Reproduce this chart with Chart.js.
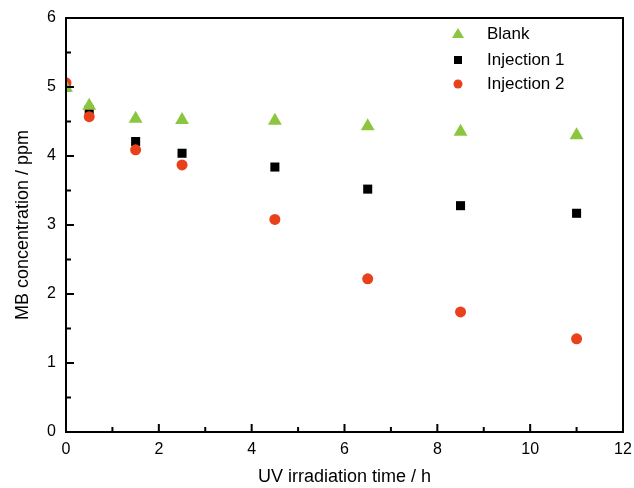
<!DOCTYPE html>
<html>
<head>
<meta charset="utf-8">
<script src="https://cdn.jsdelivr.net/npm/chart.js@4.4.0/dist/chart.umd.min.js"></script>
<style>
  html, body { margin: 0; padding: 0; background: #fff; }
  #wrap { width: 634px; height: 488px; }
</style>
</head>
<body>
<div id="wrap"><canvas id="mbChart" width="634" height="488"></canvas></div>
<script>
// irradiation times (h)
const times = [0, 0.5, 1.5, 2.5, 4.5, 6.5, 8.5, 11];
// MB concentration (ppm)
const blank = [4.99, 4.73, 4.54, 4.52, 4.51, 4.43, 4.35, 4.30];
const injection1 = [5.0, 4.67, 4.21, 4.04, 3.84, 3.52, 3.28, 3.17];
const injection2 = [5.06, 4.57, 4.09, 3.87, 3.08, 2.22, 1.74, 1.35];
const seriesNames = ['Blank', 'Injection 1', 'Injection 2'];

const xTicks = [0, 2, 4, 6, 8, 10, 12];
const yTicks = [0, 1, 2, 3, 4, 5, 6];

const GREEN = '#8cc63e';
const RED = '#e8411b';
const FONT = '"Liberation Sans", Arial, sans-serif';

function toPoints(ys) {
  return times.map((t, i) => ({ x: t, y: ys[i] }));
}

// box frame + inward ticks (major and minor)
const framePlugin = {
  id: 'frame',
  afterDatasetsDraw(chart) {
    const { ctx, chartArea: a, scales } = chart;
    const xs = scales.x, ys = scales.y;
    ctx.save();
    ctx.strokeStyle = '#000';
    ctx.lineWidth = 2;
    ctx.strokeRect(a.left, a.top, a.right - a.left, a.bottom - a.top);
    ctx.beginPath();
    for (let v = 0; v <= 12; v += 1) {
      const px = xs.getPixelForValue(v);
      const len = v % 2 === 0 ? 8 : 5;
      ctx.moveTo(px, a.bottom);
      ctx.lineTo(px, a.bottom - len);
    }
    for (let v = 0; v <= 6; v += 0.5) {
      const py = ys.getPixelForValue(v);
      const len = Number.isInteger(v) ? 8 : 5;
      ctx.moveTo(a.left, py);
      ctx.lineTo(a.left + len, py);
    }
    ctx.stroke();
    ctx.restore();
  }
};

// legend drawn inside the plot, top right
const legendPlugin = {
  id: 'innerLegend',
  afterDraw(chart) {
    const { ctx, chartArea: a } = chart;
    const x0 = a.right - 165;
    const rows = [a.top + 16, a.top + 42, a.top + 66];
    ctx.save();
    ctx.font = '17px ' + FONT;
    ctx.textBaseline = 'middle';
    chart.data.datasets.forEach((ds, i) => {
      const y = rows[i];
      ctx.fillStyle = ds.backgroundColor;
      ctx.beginPath();
      if (ds.pointStyle === 'triangle') {
        ctx.moveTo(x0, y - 6);
        ctx.lineTo(x0 + 6, y + 4);
        ctx.lineTo(x0 - 6, y + 4);
        ctx.closePath();
        ctx.fill();
      } else if (ds.pointStyle === 'rect') {
        ctx.fillRect(x0 - 4, y - 4, 8, 8);
      } else {
        ctx.arc(x0, y, 4.5, 0, Math.PI * 2);
        ctx.fill();
      }
      ctx.fillStyle = '#000';
      ctx.fillText(seriesNames[i], x0 + 29, y);
    });
    ctx.restore();
  }
};

new Chart(document.getElementById('mbChart').getContext('2d'), {
  type: 'scatter',
  data: {
    datasets: [
      {
        label: seriesNames[0],
        data: toPoints(blank),
        pointStyle: 'triangle',
        pointRadius: 8,
        backgroundColor: GREEN,
        borderColor: GREEN,
        borderWidth: 0,
        order: 0
      },
      {
        label: seriesNames[1],
        data: toPoints(injection1),
        pointStyle: 'rect',
        pointRadius: 6.4,
        backgroundColor: '#000',
        borderColor: '#000',
        borderWidth: 0,
        order: 2
      },
      {
        label: seriesNames[2],
        data: toPoints(injection2),
        pointStyle: 'circle',
        pointRadius: 5.5,
        backgroundColor: RED,
        borderColor: RED,
        borderWidth: 0,
        order: 1
      }
    ]
  },
  options: {
    responsive: false,
    animation: false,
    layout: { padding: { left: 0, right: 11, top: 18, bottom: 0 } },
    plugins: {
      legend: { display: false },
      tooltip: { enabled: false }
    },
    scales: {
      x: {
        type: 'linear',
        min: 0,
        max: 12,
        afterBuildTicks: (s) => { s.ticks = xTicks.map(v => ({ value: v })); },
        afterFit: (s) => { s.height = 56; s.paddingLeft = 0; s.paddingRight = 0; },
        grid: { display: false, drawTicks: false },
        border: { display: false },
        ticks: { color: '#000', padding: 8, font: { family: FONT, size: 16 } },
        title: {
          display: true,
          text: 'UV irradiation time / h',
          color: '#000',
          padding: { top: 6, bottom: 0 },
          font: { family: FONT, size: 18 }
        }
      },
      y: {
        type: 'linear',
        min: 0,
        max: 6,
        afterBuildTicks: (s) => { s.ticks = yTicks.map(v => ({ value: v })); },
        afterFit: (s) => { s.width = 66; s.paddingTop = 0; s.paddingBottom = 0; },
        grid: { display: false, drawTicks: false },
        border: { display: false },
        ticks: { color: '#000', padding: 10, font: { family: FONT, size: 16 } },
        title: {
          display: true,
          text: 'MB concentration / ppm',
          color: '#000',
          padding: { top: 12, bottom: 6 },
          font: { family: FONT, size: 18 }
        }
      }
    }
  },
  plugins: [framePlugin, legendPlugin]
});
</script>
</body>
</html>
